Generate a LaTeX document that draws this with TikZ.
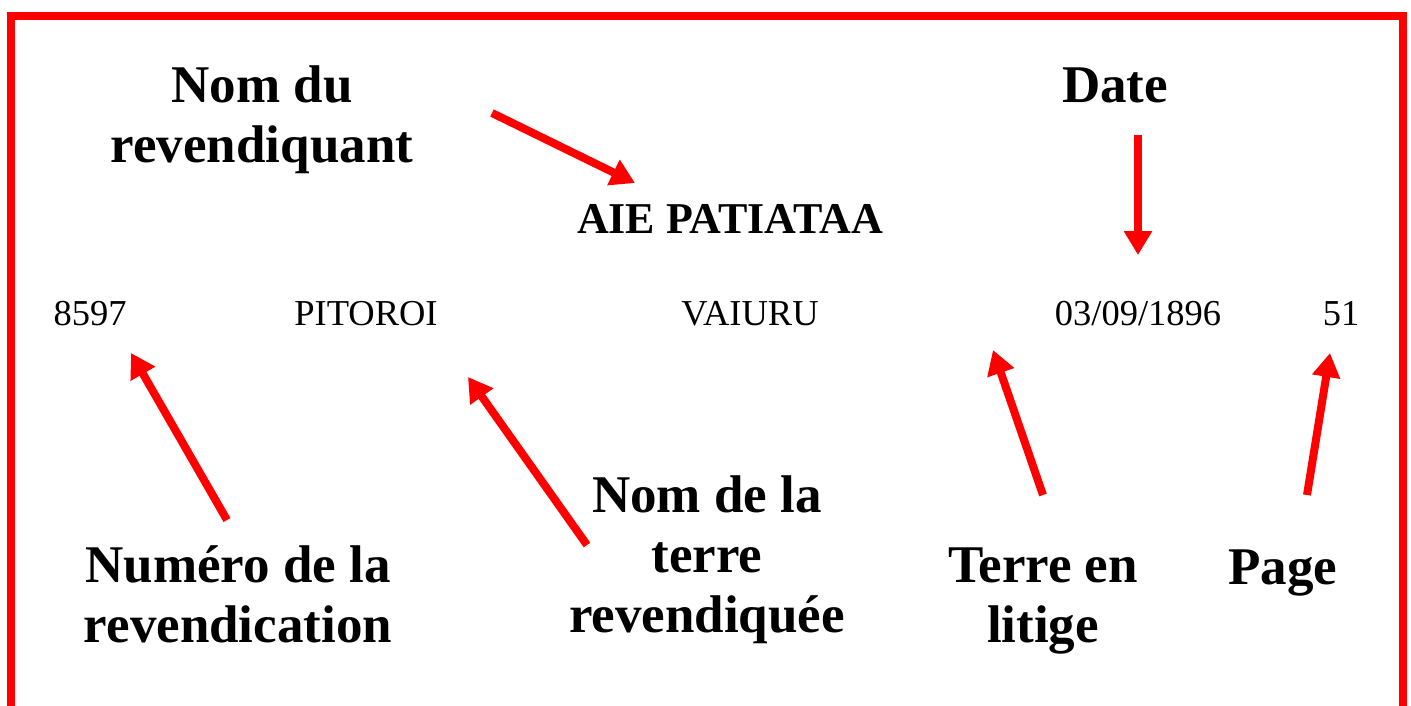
\documentclass[tikz,border=0pt]{standalone}
\usepackage{fontspec}
\setmainfont{Liberation Serif}
\usetikzlibrary{arrows.meta}

\begin{document}
\begin{tikzpicture}[x=1pt,y=-1pt,->,>={Triangle[length=24pt,width=27pt]},
                    line width=8pt]
  \tikzstyle{legende}=[font=\fontsize{53}{60}\selectfont\bfseries,align=center,inner sep=0pt,anchor=base]
  \tikzstyle{champ}=[font=\fontsize{36.5}{42}\selectfont,inner sep=0pt,anchor=base]
  \tikzstyle{nomrev}=[font=\fontsize{44}{50}\selectfont\bfseries,inner sep=0pt,anchor=base]

  \useasboundingbox (0,0) rectangle (1411,706);
  \draw[-,red,line join=miter] (11,706) -- (11,16) -- (1403,16) -- (1403,706);

  % legendes (base = derniere ligne)
  \node[legende] (revendiquant) at (262,163)  {Nom du\\revendiquant};
  \node[legende] (date)         at (1115,103) {Date};
  \node[legende] (numero)       at (238,642)  {Numéro de la\\revendication};
  \node[legende] (terre)        at (707,632)  {Nom de la\\terre\\revendiquée};
  \node[legende] (litige)       at (1043,642) {Terre en\\litige};
  \node[legende] (page)         at (1283,584) {Page};

  % la fiche
  \node[nomrev] (aie)   at (730,233)  {AIE PATIATAA};
  \node[champ]  (num)   at (90,325)   {8597};
  \node[champ]  (pit)   at (366,325)  {PITOROI};
  \node[champ]  (vai)   at (750,325)  {VAIURU};
  \node[champ]  (jour)  at (1138,325) {03/09/1896};
  \node[champ]  (pg)    at (1341,325) {51};

  \coordinate (revA) at (492,113);  \coordinate (revB) at (635,183);
  \coordinate (datA) at (1138,135); \coordinate (datB) at (1138,255);
  \coordinate (numA) at (227,520);  \coordinate (numB) at (131,353);
  \coordinate (terA) at (587,545);  \coordinate (terB) at (468,377);
  \coordinate (litA) at (1043,495); \coordinate (litB) at (993,350);
  \coordinate (pagA) at (1307,495); \coordinate (pagB) at (1330,353);

  \path[red] (revA) edge (revB)
        (datA) edge (datB)
        (numA) edge (numB)
        (terA) edge (terB)
        (litA) edge (litB)
        (pagA) edge (pagB);
\end{tikzpicture}
\end{document}
